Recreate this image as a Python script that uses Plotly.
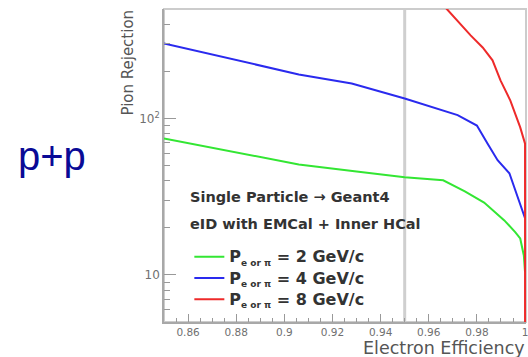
import plotly.graph_objects as go
import math

# ---- data ----
eff_2gev = [0.85, 0.87, 0.89, 0.906, 0.93, 0.95, 0.966, 0.975, 0.983, 0.9914, 0.996, 0.998, 0.9995, 1.0]
rej_2gev = [74.5, 64.9, 56.6, 50.8, 45.8, 42.0, 40.2, 34.2, 29.0, 22.3, 18.7, 17.1, 13.3, 10.4]

eff_4gev = [0.85, 0.87, 0.89, 0.906, 0.928, 0.95, 0.972, 0.980, 0.9844, 0.9886, 0.9935, 0.996, 1.0]
rej_4gev = [301, 255, 217, 191, 167, 134, 105, 90, 69, 54, 44.6, 34.7, 23]

eff_8gev = [0.96, 0.9675, 0.9774, 0.9824, 0.9865, 0.9898, 0.9939, 0.998, 1.0, 1.0]
rej_8gev = [660, 500, 339, 284, 235, 175, 130, 87.6, 69, 3]

series_names = ["2", "4", "8"]
series_colors = ["#33e633", "#2a2aee", "#ee2a2a"]

x_ticks_major = [0.86, 0.88, 0.9, 0.92, 0.94, 0.96, 0.98, 1.0]
y_ticks_major = [10, 100]
y_tick_text = ["10", "10<sup>2</sup>"]
y_ticks_minor = [5, 6, 7, 8, 9, 20, 30, 40, 50, 60, 70, 80, 90, 200, 300, 400]

cut_efficiency = 0.95

FONT = "DejaVu Sans"

fig = go.Figure()
for xs, ys, name, col in zip([eff_2gev, eff_4gev, eff_8gev],
                             [rej_2gev, rej_4gev, rej_8gev],
                             series_names, series_colors):
    fig.add_trace(go.Scatter(
        x=xs, y=ys, mode="lines",
        line=dict(color=col, width=2),
        name=(f"<span style='font-size:16px'><b>P<sub><span style='font-size:9px'>e or π</span></sub>"
              f" = {name} GeV/c</b></span>"),
    ))

fig.add_vline(x=cut_efficiency, line=dict(color="#cfcfcf", width=3), layer="below")

# frame
fig.add_shape(type="rect", xref="paper", yref="paper", x0=0, x1=1, y0=0, y1=1,
              line=dict(color="#cccccc", width=2), layer="below")

fig.update_layout(
    width=528, height=357,
    margin=dict(l=164, r=0, t=9, b=35),
    paper_bgcolor="white", plot_bgcolor="white",
    showlegend=True,
    legend=dict(x=0.07, y=0.258, xanchor="left", yanchor="top",
                bgcolor="rgba(0,0,0,0)",
                font=dict(family=FONT, size=14, color="#333333"),
                tracegroupgap=0),
    font=dict(family=FONT, color="#666666"),
)

fig.update_xaxes(
    range=[0.85, 1.0004],
    tickvals=x_ticks_major,
    ticks="inside", ticklen=8, tickcolor="#999999", tickwidth=1,
    minor=dict(dtick=0.005, tick0=0.85, ticks="inside", ticklen=4, tickcolor="#999999"),
    showgrid=False, zeroline=False,
    showline=True, linecolor="#a8a8a8", linewidth=1.5,
    tickfont=dict(family=FONT, size=10.5, color="#707070"),
    ticklabelstandoff=0,
    ticklabeloverflow="allow",
)
fig.update_yaxes(
    type="log",
    range=[math.log10(5), math.log10(500)],
    tickvals=y_ticks_major, ticktext=y_tick_text,
    ticks="inside", ticklen=12, tickcolor="#999999", tickwidth=1,
    minor=dict(tickvals=y_ticks_minor, ticks="inside", ticklen=6, tickcolor="#999999"),
    showgrid=False, zeroline=False,
    showline=True, linecolor="#a8a8a8", linewidth=1.5,
    tickfont=dict(family=FONT, size=12, color="#707070"),
)

# axis titles (ROOT style, aligned to the ends)
fig.add_annotation(text="Pion Rejection", xref="paper", yref="paper",
                   x=-0.098, y=1.003, xanchor="center", yanchor="top",
                   textangle=-90, showarrow=False,
                   font=dict(family=FONT, size=15, color="#555555"))
fig.add_annotation(text="Electron Efficiency", xref="paper", yref="paper",
                   x=1.0, y=-0.082, xanchor="right", yanchor="middle",
                   showarrow=False, borderpad=0,
                   font=dict(family=FONT, size=17.5, color="#555555"))

# in-plot labels
fig.add_annotation(text="<b>Single Particle → Geant4</b>", xref="paper", yref="paper",
                   x=0.066, y=0.399, xanchor="left", yanchor="middle", showarrow=False,
                   font=dict(family=FONT, size=14.5, color="#333333"))
fig.add_annotation(text="<b>eID with EMCal + Inner HCal</b>", xref="paper", yref="paper",
                   x=0.066, y=0.313, xanchor="left", yanchor="middle", showarrow=False,
                   font=dict(family=FONT, size=14.5, color="#333333"))

# collision system label
fig.add_annotation(text="p+p", xref="paper", yref="paper",
                   x=-0.41, y=0.53, xanchor="left", yanchor="middle", showarrow=False,
                   font=dict(family="Liberation Sans", size=40, color="#0a0a96"))

fig.write_html("out.html")
